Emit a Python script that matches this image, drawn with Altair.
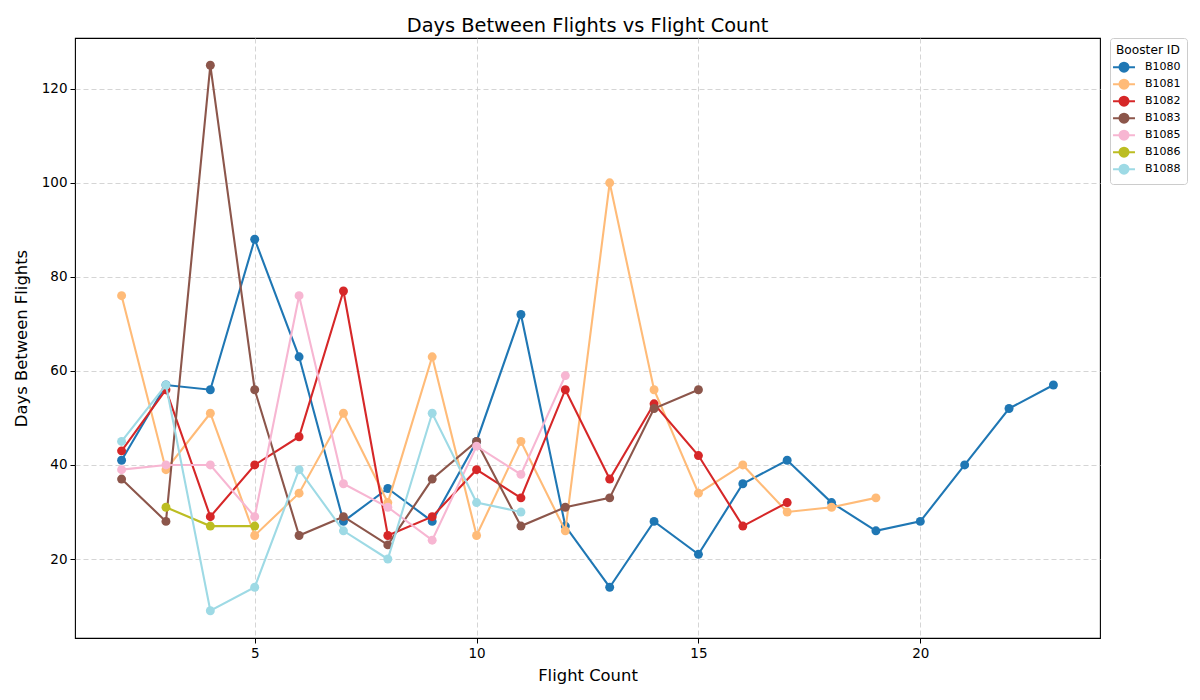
import altair as alt
import pandas as pd

boosters = ["B1080", "B1081", "B1082", "B1083", "B1085", "B1086", "B1088"]
colors = ["#1f77b4", "#ffbb78", "#d62728", "#8c564b", "#f7b6d2", "#bcbd22", "#9edae5"]

b1080_x = [2, 3, 4, 5, 6, 7, 8, 9, 10, 11, 12, 13, 14, 15, 16, 17, 18, 19, 20, 21, 22, 23]
b1080_y = [41, 57, 56, 88, 63, 28, 35, 28, 45, 72, 27, 14, 28, 21, 36, 41, 32, 26, 28, 40, 52, 57]

b1081_x = [2, 3, 4, 5, 6, 7, 8, 9, 10, 11, 12, 13, 14, 15, 16, 17, 18, 19]
b1081_y = [76, 39, 51, 25, 34, 51, 32, 63, 25, 45, 26, 100, 56, 34, 40, 30, 31, 33]

b1082_x = [2, 3, 4, 5, 6, 7, 8, 9, 10, 11, 12, 13, 14, 15, 16, 17]
b1082_y = [43, 56, 29, 40, 46, 77, 25, 29, 39, 33, 56, 37, 53, 42, 27, 32]

b1083_x = [2, 3, 4, 5, 6, 7, 8, 9, 10, 11, 12, 13, 14, 15]
b1083_y = [37, 28, 125, 56, 25, 29, 23, 37, 45, 27, 31, 33, 52, 56]

b1085_x = [2, 3, 4, 5, 6, 7, 8, 9, 10, 11, 12]
b1085_y = [39, 40, 40, 29, 76, 36, 31, 24, 44, 38, 59]

b1086_x = [3, 4, 5]
b1086_y = [31, 27, 27]

b1088_x = [2, 3, 4, 5, 6, 7, 8, 9, 10, 11]
b1088_y = [45, 57, 9, 14, 39, 26, 20, 51, 32, 30]

series = {
    "B1080": (b1080_x, b1080_y),
    "B1081": (b1081_x, b1081_y),
    "B1082": (b1082_x, b1082_y),
    "B1083": (b1083_x, b1083_y),
    "B1085": (b1085_x, b1085_y),
    "B1086": (b1086_x, b1086_y),
    "B1088": (b1088_x, b1088_y),
}

FONT = "DejaVu Sans"

color_scale = alt.Scale(domain=boosters, range=colors)
x_scale = alt.Scale(domain=[0.95, 24.05], nice=False, zero=False)
y_scale = alt.Scale(domain=[3.2, 130.8], nice=False, zero=False)

legend = alt.Legend(
    title="Booster ID",
    orient="none",
    legendX=1035,
    legendY=0,
    titleFont=FONT,
    titleFontSize=12.2,
    titleFontWeight="normal",
    titleColor="black",
    labelFont=FONT,
    labelFontSize=11,
    labelColor="black",
    symbolType="M-1.6,0H1.6M0.66,0A0.66,0.66,0,1,1,-0.66,0A0.66,0.66,0,1,1,0.66,0Z",
    symbolSize=188,
    symbolStrokeWidth=2,
    symbolOpacity=1,
    rowPadding=-3.6,
    padding=6,
    strokeColor="#cccccc",
    fillColor="white",
    cornerRadius=3,
    titlePadding=3,
    labelOffset=13,
)

layers = []
for b in boosters:
    xs, ys = series[b]
    df = pd.DataFrame({"flight": xs, "days": ys, "booster": [b] * len(xs)})
    base = alt.Chart(df).encode(
        x=alt.X("flight:Q", scale=x_scale,
                axis=alt.Axis(title="Flight Count", values=[5, 10, 15, 20])),
        y=alt.Y("days:Q", scale=y_scale,
                axis=alt.Axis(title="Days Between Flights", values=[20, 40, 60, 80, 100, 120])),
        color=alt.Color("booster:N", scale=color_scale, legend=legend),
    )
    line = base.mark_line(strokeWidth=2.1, clip=True)
    pts = base.mark_circle(size=80, opacity=1, clip=True).encode(
        fill=alt.Fill("booster:N", scale=color_scale, legend=legend),
    )
    layers.append(line)
    layers.append(pts)

chart = alt.layer(*layers).properties(
    width=1025,
    height=600,
    autosize=alt.AutoSizeParams(type="none"),
    padding={"left": 67, "top": 30, "right": 92, "bottom": 54},
    title=alt.Title("Days Between Flights vs Flight Count", font=FONT, fontSize=19.4,
                    fontWeight="normal", color="black", offset=1),
).configure_view(
    stroke="black", strokeWidth=1.1
).configure_axis(
    labelFont=FONT, labelFontSize=13.5, labelColor="black",
    titleFont=FONT, titleFontSize=16.4, titleFontWeight="normal", titleColor="black",
    domain=False, tickColor="black", tickSize=5, tickWidth=1,
    labelPadding=3,
    grid=True, gridColor="#d0d0d0", gridDash=[5, 3], gridWidth=0.9,
).configure_axisX(titlePadding=8).configure_axisY(titlePadding=12)

chart.save("out.html", embed_options={"renderer": "svg", "actions": False})
